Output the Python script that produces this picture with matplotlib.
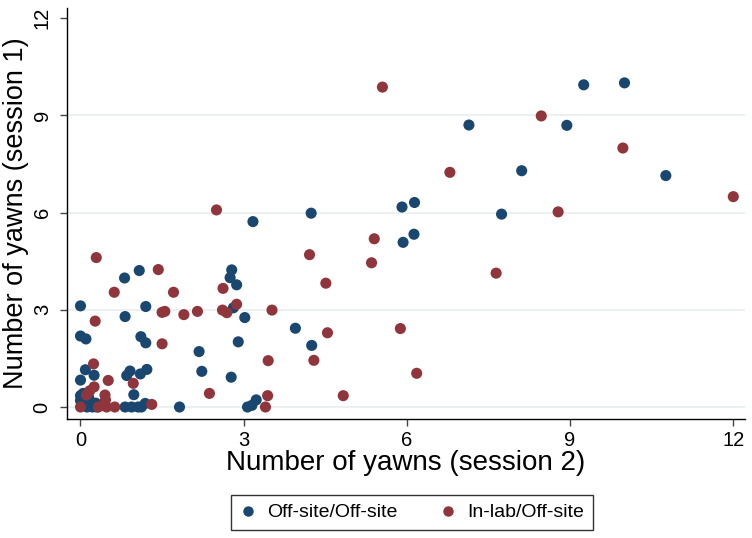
import matplotlib
matplotlib.use("Agg")
import matplotlib.pyplot as plt
from matplotlib.lines import Line2D

plt.rcParams['font.family'] = ['Liberation Sans', 'DejaVu Sans']

# Off-site/Off-site group (session 2, session 1)
off_x = [9.25, 10.0, 7.14, 8.94, 8.11, 10.76, 5.91, 6.14, 7.74, 5.93, 6.13, 3.17, 4.24,
         2.78, 2.75, 2.87, 2.81, 3.02, 2.90, 3.95, 4.25, 2.77, 3.07, 3.15, 3.23,
         1.08, 0.81, 0.0, 1.20, 0.82, 0.0, 0.10, 1.11, 1.20, 2.18, 2.23,
         0.0, 0.09, 0.25, 0.85, 0.91, 1.10, 1.22, 0.98,
         0.82, 0.94, 1.06, 1.12, 1.19, 1.82,
         0.0, 0.0, 0.04, 0.12, 0.22, 0.28, 0.05, 0.15, 0.30]
off_y = [9.94, 10.0, 8.70, 8.69, 7.29, 7.14, 6.17, 6.31, 5.95, 5.08, 5.33, 5.72, 5.98,
         4.23, 3.99, 3.77, 3.06, 2.76, 2.01, 2.43, 1.90, 0.92, 0.0, 0.05, 0.22,
         4.21, 3.98, 3.12, 3.10, 2.79, 2.19, 2.10, 2.17, 1.98, 1.71, 1.10,
         0.83, 1.15, 0.98, 0.97, 1.11, 1.02, 1.16, 0.38,
         0.0, 0.0, 0.0, 0.0, 0.11, 0.0,
         0.35, 0.20, 0.08, 0.0, 0.0, 0.12, 0.42, 0.30, 0.0]

# In-lab/Off-site group
lab_x = [5.55, 8.47, 9.97, 6.79, 12.0, 8.78, 5.40, 7.64, 4.21, 5.35, 4.51, 3.52, 4.54,
         5.88, 3.45, 4.29, 6.18, 3.44, 4.83, 3.40,
         2.50, 0.29, 1.43, 0.62, 1.71, 2.62, 1.50, 1.55, 1.90, 2.15, 2.61, 2.69, 2.87,
         0.27, 1.50, 2.37, 0.24, 0.25, 0.17, 0.51, 0.97, 0.11, 0.45, 0.46,
         0.0, 0.33, 0.48, 0.63, 1.31]
lab_y = [9.87, 8.98, 7.99, 7.24, 6.49, 6.02, 5.19, 4.13, 4.70, 4.45, 3.82, 2.99, 2.29,
         2.42, 1.43, 1.44, 1.04, 0.35, 0.35, 0.0,
         6.08, 4.61, 4.24, 3.54, 3.54, 3.66, 2.92, 2.95, 2.85, 2.95, 2.99, 2.91, 3.17,
         2.65, 1.95, 0.42, 1.33, 0.62, 0.50, 0.82, 0.73, 0.37, 0.37, 0.22,
         0.0, 0.0, 0.0, 0.0, 0.08]

ticks = [0, 3, 6, 9, 12]
grid_y = [0, 3, 6, 9]
labels = ['Off-site/Off-site', 'In-lab/Off-site']
colors = ['#1a476f', '#90353b']

fig = plt.figure(figsize=(7.52, 5.38), dpi=100)
ax = fig.add_axes([67 / 752, 119 / 538, 678 / 752, 411 / 538])

for gy in grid_y:
    ax.axhline(gy, color='#e8eff0', lw=1.2, zorder=0)

ax.scatter(off_x, off_y, s=64, color=colors[0], edgecolors='none', zorder=3)
ax.scatter(lab_x, lab_y, s=64, color=colors[1], edgecolors='none', zorder=4)

ax.set_xlim(-0.248, 12.215)
ax.set_ylim(-0.37, 12.31)
ax.set_xticks(ticks)
ax.set_yticks(ticks)
ax.tick_params(axis='both', labelsize=14.5, length=5, width=1, color='#444444')
ax.tick_params(axis='x', pad=4)
ax.tick_params(axis='y', pad=6)
plt.setp(ax.get_yticklabels(), rotation=90, va='center')

for side in ['top', 'right']:
    ax.spines[side].set_visible(False)
for side in ['left', 'bottom']:
    ax.spines[side].set_linewidth(1)

ax.set_xlabel('Number of yawns (session 2)', fontsize=20, labelpad=0)
ax.set_ylabel('Number of yawns (session 1)', fontsize=19.5, labelpad=3)

handles = [Line2D([], [], marker='o', ls='none', color=c, markersize=6.5) for c in colors]
leg = fig.legend(handles, labels, loc='center', bbox_to_anchor=(412 / 752, 1 - 512.5 / 538),
                 ncol=2, fontsize=14, frameon=True, fancybox=False, handlelength=0.8,
                 handletextpad=0.6, columnspacing=2.2, borderpad=0.45)
leg.get_frame().set_edgecolor('black')
leg.get_frame().set_linewidth(1)

fig.savefig('out.png', dpi=100)
